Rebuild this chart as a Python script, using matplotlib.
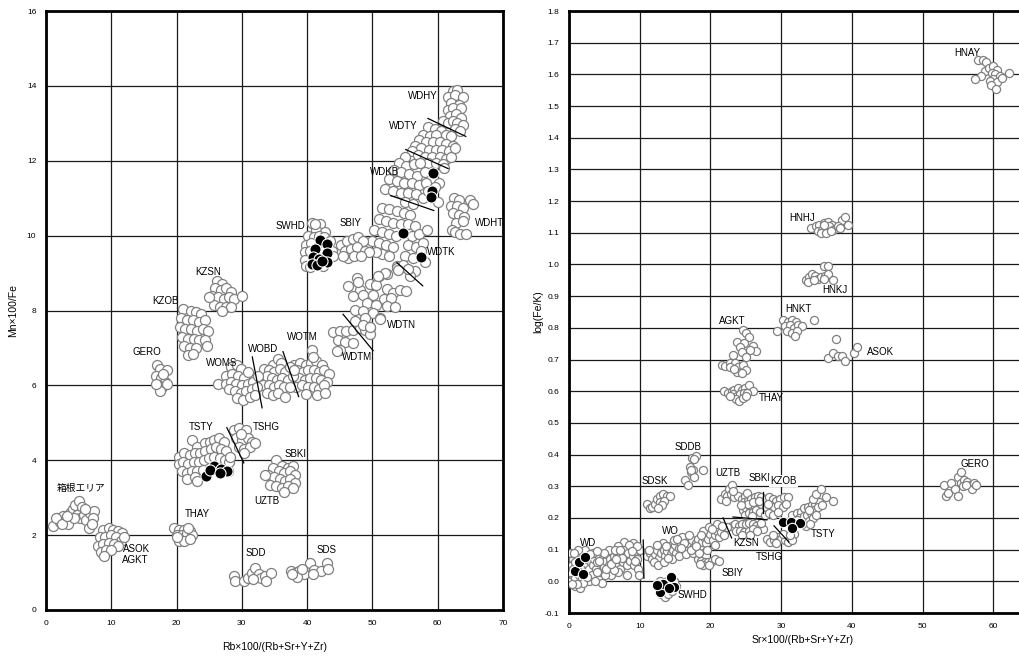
import numpy as np
from matplotlib import pyplot as plt

plt.rcParams['font.family'] = ['Liberation Sans', 'Noto Sans CJK JP', 'DejaVu Sans']

# ---- left diagram: Rb index vs Mn/Fe (open = reference groups, filled = samples)
l_wdhy = [(62.3, 13.85), (63.0, 13.9), (61.6, 13.7), (62.6, 13.75), (63.8, 13.7), (62.0, 13.55),
          (63.2, 13.5), (61.5, 13.35), (62.4, 13.4), (63.6, 13.4), (61.9, 13.2), (62.8, 13.25),
          (63.5, 13.15), (60.8, 13.05), (61.5, 13.0), (62.3, 13.05), (63.0, 13.0), (63.8, 12.95),
          (62.6, 12.85), (63.4, 12.8)]
l_wdty = [(58.5, 12.9), (59.6, 12.85), (60.5, 12.8), (57.8, 12.7), (58.8, 12.65), (59.8, 12.7),
          (61.2, 12.7), (62.0, 12.65), (57.2, 12.55), (58.2, 12.5), (59.3, 12.5), (60.3, 12.5),
          (61.3, 12.45), (62.3, 12.4), (56.5, 12.4), (57.5, 12.35), (58.6, 12.3), (59.7, 12.3),
          (60.7, 12.3), (61.8, 12.25), (56.0, 12.25), (57.0, 12.15), (58.0, 12.1), (59.2, 12.1),
          (60.3, 12.1), (61.3, 12.05), (62.0, 12.1), (58.5, 11.95), (59.7, 11.95), (60.8, 11.9),
          (61.0, 11.8), (62.7, 12.35)]
l_wdkb = [(55.0, 12.1), (54.0, 11.95), (55.2, 11.85), (56.3, 11.9), (57.3, 11.95), (53.3, 11.75),
          (54.4, 11.7), (55.6, 11.65), (56.8, 11.6), (58.0, 11.7), (52.5, 11.5), (53.7, 11.45),
          (54.9, 11.4), (56.1, 11.4), (57.2, 11.35), (58.2, 11.4), (60.2, 11.4), (52.0, 11.25),
          (53.1, 11.2), (54.3, 11.15), (55.5, 11.15), (56.6, 11.1), (57.8, 11.0), (60.0, 10.9),
          (55.0, 10.9), (56.2, 10.85), (58.5, 11.2), (59.6, 11.3)]
l_wdtk = [(51.5, 10.75), (52.6, 10.7), (53.7, 10.65), (54.8, 10.6), (55.8, 10.55), (51.0, 10.45),
          (52.1, 10.4), (53.2, 10.35), (54.3, 10.3), (55.4, 10.3), (56.5, 10.25), (50.3, 10.15),
          (51.4, 10.1), (52.5, 10.05), (53.6, 10.0), (56.0, 10.0), (57.2, 10.05), (58.4, 10.15),
          (50.0, 9.85), (51.0, 9.8), (52.1, 9.75), (53.2, 9.7), (55.5, 9.75), (56.6, 9.7),
          (57.8, 9.8), (51.5, 9.5), (52.6, 9.45), (55.0, 9.45), (56.2, 9.4), (58.0, 9.3),
          (53.7, 9.2), (54.8, 9.15), (56.5, 9.05), (57.5, 9.6), (50.6, 9.55)]
l_wdht = [(62.5, 11.0), (63.3, 10.95), (65.0, 10.95), (62.0, 10.8), (63.0, 10.8), (63.8, 10.75),
          (65.4, 10.85), (62.3, 10.6), (63.3, 10.55), (64.1, 10.5), (62.8, 10.35), (63.9, 10.4),
          (62.2, 10.15), (62.6, 10.1), (63.4, 10.05), (64.3, 10.05)]
l_wdtn = [(47.7, 8.87), (51.0, 8.93), (52.2, 8.98), (53.8, 9.14), (54.7, 9.22), (46.3, 8.65),
          (48.1, 8.56), (49.6, 8.72), (50.6, 8.69), (52.2, 8.57), (53.2, 8.47), (54.2, 8.56),
          (55.1, 8.51), (47.1, 8.38), (48.6, 8.42), (50.1, 8.42), (51.7, 8.31), (52.9, 8.33),
          (47.3, 8.02), (49.1, 8.20), (50.6, 8.16), (52.2, 8.11), (53.4, 8.09), (48.6, 7.98),
          (50.1, 7.93), (51.1, 7.80), (55.7, 8.91), (55.5, 9.11), (48.9, 7.80), (48.1, 7.62),
          (49.6, 7.54), (51.1, 7.77), (47.8, 8.75), (51.9, 9.0), (53.9, 9.09), (50.9, 8.91)]
l_wdtm = [(44.0, 7.42), (45.0, 7.44), (46.0, 7.44), (47.1, 7.49), (44.8, 7.22), (45.8, 7.17),
          (47.1, 7.13), (45.0, 6.95), (44.5, 6.91), (48.1, 7.53), (48.9, 7.49), (49.6, 7.38),
          (47.3, 7.71), (48.6, 7.62), (49.6, 7.57)]
l_wotm = [(40.8, 6.95), (38.0, 6.55), (38.9, 6.6), (39.8, 6.55), (40.6, 6.6), (41.4, 6.65),
          (42.2, 6.55), (37.6, 6.35), (38.5, 6.4), (39.3, 6.35), (40.2, 6.4), (41.0, 6.4),
          (41.8, 6.35), (42.6, 6.4), (43.3, 6.3), (37.9, 6.15), (38.8, 6.2), (39.7, 6.15),
          (40.5, 6.2), (41.3, 6.2), (42.1, 6.15), (43.0, 6.1), (38.3, 5.95), (39.2, 6.0),
          (40.1, 5.95), (41.0, 5.95), (41.8, 5.9), (42.6, 6.0), (39.8, 5.78), (41.5, 5.75),
          (42.8, 5.8), (37.2, 6.25), (40.9, 6.75)]
l_wobd = [(34.8, 6.55), (35.5, 6.7), (36.0, 6.6), (33.4, 6.45), (34.2, 6.4), (35.0, 6.35),
          (35.8, 6.45), (36.6, 6.35), (37.3, 6.5), (33.0, 6.2), (33.8, 6.25), (34.6, 6.2),
          (35.4, 6.15), (36.2, 6.2), (37.0, 6.15), (37.8, 6.25), (33.3, 6.0), (34.1, 6.0),
          (34.9, 5.95), (35.7, 6.0), (36.5, 5.95), (37.3, 5.95), (33.8, 5.8), (34.7, 5.75),
          (35.6, 5.8), (36.6, 5.7), (38.0, 6.4)]
l_woms = [(26.4, 6.05), (27.6, 6.25), (28.3, 6.5), (29.3, 6.55), (29.9, 6.45), (28.5, 6.3),
          (29.4, 6.25), (30.3, 6.2), (31.0, 6.35), (27.5, 6.05), (28.3, 6.1), (29.1, 6.05),
          (30.0, 6.0), (30.9, 6.05), (31.7, 6.1), (28.1, 5.9), (28.9, 5.85), (29.8, 5.8),
          (30.7, 5.85), (31.5, 5.9), (32.3, 5.95), (29.3, 5.65), (30.2, 5.6), (31.2, 5.7),
          (32.0, 5.75), (32.5, 6.25)]
l_swhd = [(40.7, 10.35), (42.0, 10.3), (41.3, 10.15), (42.7, 10.1), (40.2, 10.0), (41.0, 9.95),
          (41.8, 10.0), (42.6, 9.95), (43.5, 9.85), (39.8, 9.75), (40.6, 9.8), (43.8, 9.6),
          (39.7, 9.55), (40.4, 9.6), (43.2, 9.5), (39.6, 9.35), (44.0, 9.45), (39.9, 9.2),
          (40.5, 9.15), (42.5, 9.2), (41.6, 9.7), (42.4, 9.6), (41.2, 10.3)]
l_sbiy = [(45.2, 9.75), (46.1, 9.85), (47.0, 9.9), (47.8, 9.95), (48.5, 9.85), (45.8, 9.6),
          (46.7, 9.65), (47.6, 9.7), (48.8, 9.6), (49.4, 9.55), (46.2, 9.4), (47.2, 9.45),
          (48.3, 9.45), (45.5, 9.45)]
l_kzsn = [(26.2, 8.8), (27.0, 8.7), (25.9, 8.6), (26.8, 8.55), (27.6, 8.6), (28.4, 8.5),
          (25.4, 8.4), (26.3, 8.35), (27.2, 8.3), (28.0, 8.35), (28.8, 8.3), (30.0, 8.4),
          (25.7, 8.15), (26.6, 8.1), (27.5, 8.1), (28.4, 8.1), (26.9, 8.0), (24.9, 8.35)]
l_kzob = [(21.0, 8.05), (22.2, 8.0), (23.0, 7.95), (23.8, 7.9), (20.7, 7.8), (21.6, 7.75),
          (22.5, 7.75), (23.4, 7.7), (24.3, 7.75), (20.5, 7.55), (21.3, 7.5), (22.2, 7.5),
          (23.1, 7.45), (24.0, 7.5), (24.8, 7.45), (20.8, 7.3), (21.7, 7.25), (22.6, 7.25),
          (23.5, 7.2), (24.4, 7.2), (21.2, 7.05), (22.1, 7.0), (23.0, 7.0), (24.6, 7.05),
          (21.8, 6.8), (22.5, 6.85)]
l_gero = [(17.0, 6.55), (17.5, 6.45), (18.5, 6.4), (16.8, 6.25), (17.6, 6.2), (18.3, 6.1),
          (17.1, 6.0), (17.8, 5.95), (18.6, 6.05), (17.5, 5.85), (17.9, 6.3), (16.9, 6.05)]
l_tsty = [(22.4, 4.55), (23.2, 4.35), (24.4, 4.45), (25.1, 4.5), (25.8, 4.55), (26.5, 4.6),
          (27.2, 4.5), (20.4, 4.1), (21.2, 4.2), (22.0, 4.15), (22.8, 4.2), (23.6, 4.2),
          (24.4, 4.25), (25.2, 4.3), (26.0, 4.35), (26.8, 4.3), (27.6, 4.25), (20.3, 3.9),
          (21.0, 3.95), (21.8, 3.9), (22.6, 3.95), (23.4, 3.95), (24.2, 4.0), (25.0, 4.05),
          (25.8, 4.1), (26.6, 4.05), (27.4, 4.0), (28.1, 3.95), (20.8, 3.7), (21.6, 3.65),
          (22.4, 3.7), (23.2, 3.7), (24.0, 3.75), (27.9, 3.7), (21.6, 3.5), (22.8, 3.55),
          (23.2, 3.45), (28.2, 4.1)]
l_tshg = [(28.8, 4.8), (29.6, 4.85), (30.6, 4.8), (29.1, 4.6), (30.0, 4.55), (30.9, 4.6),
          (31.6, 4.5), (29.5, 4.35), (30.4, 4.3), (31.2, 4.35), (30.3, 4.2), (32.0, 4.45),
          (29.8, 4.7)]
l_sbki = [(35.3, 4.0), (36.2, 3.85), (37.0, 3.8), (37.8, 3.85), (34.8, 3.8), (35.7, 3.7),
          (36.5, 3.65), (37.3, 3.7), (38.1, 3.6), (34.0, 3.6), (34.9, 3.55), (35.8, 3.5),
          (36.6, 3.45), (37.4, 3.5), (38.2, 3.4), (34.3, 3.35), (35.2, 3.3), (36.1, 3.25),
          (37.0, 3.3), (37.8, 3.25), (36.4, 3.15), (33.6, 3.6)]
l_hakone = [(1.1, 2.25), (1.7, 2.45), (2.2, 2.35), (2.6, 2.5), (3.0, 2.4), (3.4, 2.3),
            (3.6, 2.6), (4.1, 2.7), (4.5, 2.8), (5.0, 2.9), (5.5, 2.75), (4.7, 2.55),
            (5.2, 2.45), (5.8, 2.55), (6.2, 2.4), (6.8, 2.6), (7.4, 2.65), (7.2, 2.45),
            (6.6, 2.2), (1.5, 2.45), (2.5, 2.3), (4.3, 2.45), (5.9, 2.7), (3.2, 2.5), (7.0, 2.3)]
l_asok = [(8.8, 2.15), (9.6, 2.2), (10.3, 2.15), (11.0, 2.1), (11.6, 2.05), (8.3, 1.95),
          (9.1, 1.95), (9.9, 2.0), (10.7, 1.95), (11.5, 1.85), (12.0, 1.95), (8.0, 1.7),
          (8.8, 1.75), (9.6, 1.8), (10.4, 1.75), (11.1, 1.7), (8.4, 1.55), (9.2, 1.6),
          (10.0, 1.6), (8.9, 1.45)]
l_thay = [(19.6, 2.2), (20.4, 2.15), (21.2, 2.15), (22.0, 2.1), (20.0, 2.0), (20.8, 2.0),
          (21.6, 2.05), (22.4, 2.0), (20.4, 1.85), (21.2, 1.85), (22.0, 1.9), (21.8, 2.2),
          (20.1, 1.95)]
l_sdd = [(28.8, 0.9), (29.0, 0.78), (30.3, 0.78), (31.0, 0.85), (31.6, 1.0), (32.0, 1.12),
         (32.6, 0.95), (33.0, 0.85), (33.6, 0.9), (34.4, 1.0), (33.7, 0.78), (31.7, 0.82)]
l_sds = [(37.5, 1.05), (38.2, 1.0), (38.7, 1.05), (39.5, 0.95), (38.5, 0.88), (40.5, 1.25),
         (41.1, 1.08), (42.1, 1.05), (43.0, 1.25), (43.2, 1.1), (40.9, 0.95), (39.2, 1.1),
         (37.7, 0.95)]

l_samples = [(59.3, 11.68), (59.1, 11.2), (59.0, 11.04), (54.7, 10.08), (57.4, 9.44),
             (42.0, 9.87), (43.0, 9.78), (41.2, 9.63), (43.0, 9.54), (40.9, 9.42), (41.8, 9.38),
             (43.0, 9.29), (40.7, 9.25), (41.5, 9.22), (42.2, 9.33),
             (24.5, 3.58), (25.8, 3.85), (25.1, 3.74), (26.8, 3.77), (27.7, 3.72), (26.6, 3.66)]

l_labels = [('WDHY', 57.7, 13.74), ('WDTY', 54.7, 12.94), ('WDKB', 51.9, 11.69),
            ('SWHD', 37.5, 10.27), ('SBIY', 46.7, 10.34), ('WDHT', 67.9, 10.35),
            ('WDTK', 60.5, 9.57), ('KZSN', 24.8, 9.03), ('KZOB', 18.3, 8.26),
            ('WDTN', 54.5, 7.62), ('WDTM', 47.7, 6.76), ('WOTM', 39.3, 7.30),
            ('WOBD', 33.3, 6.98), ('GERO', 15.4, 6.90), ('WOMS', 26.9, 6.60),
            ('TSTY', 23.7, 4.89), ('TSHG', 33.7, 4.89), ('SBKI', 38.3, 4.17),
            ('UZTB', 33.8, 2.91), ('箱根エリア', 5.4, 3.26), ('THAY', 23.2, 2.57),
            ('ASOK', 13.9, 1.63), ('AGKT', 13.6, 1.34), ('SDD', 32.1, 1.52), ('SDS', 43.0, 1.60)]

l_dividers = [((58.5, 13.13), (64.3, 12.65)), ((55.1, 12.3), (61.6, 11.79)),
              ((52.8, 11.07), (59.4, 10.67)), ((53.75, 9.28), (57.7, 8.66)),
              ((45.5, 7.9), (50.1, 6.93)), ((27.7, 4.87), (30.3, 3.93)),
              ((31.6, 6.76), (33.1, 5.40)), ((36.3, 6.90), (38.7, 5.70))]

# ---- right diagram: Sr index vs log(Fe/K)
r_hnay = [(57.9, 1.645), (58.5, 1.645), (59.0, 1.64), (58.9, 1.61), (58.3, 1.595), (57.4, 1.585),
          (59.4, 1.62), (60.0, 1.625), (60.5, 1.615), (59.8, 1.605), (60.3, 1.6), (61.0, 1.595),
          (62.3, 1.605), (60.0, 1.585), (59.5, 1.58), (60.6, 1.575), (59.7, 1.565), (60.4, 1.555),
          (61.2, 1.59)]
r_hnhj = [(34.2, 1.115), (34.9, 1.12), (35.4, 1.125), (36.0, 1.13), (36.6, 1.135), (37.2, 1.125),
          (38.6, 1.14), (39.0, 1.15), (39.4, 1.125), (35.2, 1.105), (35.8, 1.11), (36.3, 1.115),
          (36.8, 1.12), (37.4, 1.11), (38.0, 1.12), (35.6, 1.1), (36.4, 1.1), (37.0, 1.105),
          (36.1, 1.125), (38.3, 1.115)]
r_hnkj = [(36.0, 0.995), (36.6, 0.995), (33.5, 0.95), (34.0, 0.96), (34.4, 0.97), (34.8, 0.965),
          (35.2, 0.955), (35.7, 0.96), (36.2, 0.965), (36.6, 0.97), (37.3, 0.95), (33.8, 0.945),
          (34.6, 0.95), (36.0, 0.955)]
r_hnkt = [(30.3, 0.825), (31.0, 0.82), (31.6, 0.825), (32.1, 0.82), (30.6, 0.805), (31.2, 0.81),
          (31.8, 0.8), (32.4, 0.81), (33.0, 0.805), (34.6, 0.825), (30.9, 0.79), (31.6, 0.785),
          (32.2, 0.79), (29.4, 0.79), (31.9, 0.775)]
r_agkt = [(24.6, 0.793), (25.1, 0.784), (25.5, 0.771), (23.8, 0.756), (24.7, 0.752), (26.0, 0.743),
          (26.4, 0.727), (24.2, 0.741), (25.6, 0.730), (24.5, 0.724), (23.2, 0.714), (25.0, 0.708),
          (21.6, 0.683), (22.1, 0.680), (22.8, 0.689), (23.5, 0.689), (23.9, 0.677), (24.6, 0.683),
          (25.1, 0.667), (23.8, 0.661), (22.8, 0.677), (24.5, 0.658), (23.3, 0.67)]
r_asok = [(37.8, 0.765), (36.7, 0.705), (37.4, 0.72), (38.0, 0.71), (38.6, 0.71), (39.1, 0.695),
          (40.3, 0.72), (40.8, 0.738)]
r_thay = [(21.9, 0.6), (22.5, 0.595), (23.0, 0.6), (23.4, 0.605), (23.9, 0.61), (24.4, 0.605),
          (24.9, 0.61), (25.5, 0.62), (26.0, 0.6), (23.2, 0.59), (23.7, 0.585), (24.2, 0.59),
          (24.7, 0.595), (25.2, 0.595), (23.6, 0.575), (24.1, 0.57), (24.6, 0.58), (22.8, 0.585),
          (25.0, 0.585)]
r_sddb = [(17.4, 0.39), (17.9, 0.395), (17.7, 0.385), (17.1, 0.36), (17.6, 0.35), (17.3, 0.345),
          (17.7, 0.33), (19.0, 0.35), (16.4, 0.32), (16.9, 0.305), (17.2, 0.35)]
r_sdsk = [(11.0, 0.245), (11.4, 0.232), (11.8, 0.235), (12.2, 0.245), (12.5, 0.26), (12.9, 0.27),
          (13.3, 0.275), (13.8, 0.27), (14.3, 0.27), (12.9, 0.25), (13.4, 0.255), (13.1, 0.24),
          (12.6, 0.232)]
r_gero = [(53.0, 0.305), (53.3, 0.27), (53.6, 0.28), (54.1, 0.31), (54.6, 0.29), (55.0, 0.27),
          (55.0, 0.33), (55.5, 0.345), (55.4, 0.31), (55.9, 0.32), (56.3, 0.315), (56.7, 0.305),
          (57.0, 0.29), (57.3, 0.31), (55.7, 0.3), (56.2, 0.305), (57.6, 0.305)]
r_uztb = [(21.5, 0.26), (22.1, 0.275), (22.6, 0.29), (23.0, 0.305), (22.4, 0.27), (22.9, 0.275),
          (23.4, 0.265), (23.9, 0.27), (24.4, 0.26), (24.9, 0.27), (25.2, 0.28), (23.2, 0.285),
          (22.2, 0.255)]
r_sbki = [(24.8, 0.25), (25.3, 0.255), (25.8, 0.26), (26.3, 0.265), (26.8, 0.27), (27.2, 0.265),
          (24.6, 0.225), (25.1, 0.23), (25.6, 0.235), (26.1, 0.24), (26.6, 0.245), (27.1, 0.245),
          (24.9, 0.21), (25.5, 0.215), (26.0, 0.22), (26.5, 0.225), (27.0, 0.22), (25.3, 0.245),
          (26.0, 0.25), (24.3, 0.24), (25.9, 0.205), (26.9, 0.255)]
r_kzob = [(27.8, 0.26), (28.3, 0.265), (28.8, 0.26), (29.3, 0.255), (29.8, 0.26), (30.4, 0.265),
          (31.0, 0.265), (27.9, 0.235), (28.5, 0.24), (29.0, 0.235), (29.6, 0.24), (30.2, 0.235),
          (27.7, 0.21), (28.3, 0.215), (28.9, 0.21), (29.5, 0.22), (28.1, 0.245), (30.7, 0.245)]
r_tsty = [(31.6, 0.21), (32.2, 0.215), (32.8, 0.22), (33.3, 0.23), (33.8, 0.235), (34.3, 0.24),
          (34.8, 0.245), (35.3, 0.25), (34.5, 0.26), (35.0, 0.275), (35.6, 0.29), (36.3, 0.265),
          (37.4, 0.255), (32.6, 0.2), (33.2, 0.205), (33.7, 0.21), (34.2, 0.215), (34.7, 0.225),
          (35.2, 0.235), (33.9, 0.19), (34.5, 0.2), (35.0, 0.21), (33.5, 0.175), (34.1, 0.18),
          (31.8, 0.15), (33.0, 0.18), (34.0, 0.225), (32.2, 0.195), (35.8, 0.24)]
r_tshg = [(28.0, 0.135), (28.5, 0.125), (29.0, 0.13), (29.5, 0.14), (30.0, 0.135), (30.5, 0.13),
          (31.0, 0.125), (31.5, 0.13), (29.3, 0.12), (30.2, 0.15), (31.2, 0.145), (28.8, 0.145)]
r_kzsn = [(23.0, 0.175), (23.5, 0.18), (24.0, 0.175), (24.5, 0.18), (25.0, 0.18), (25.5, 0.185),
          (26.0, 0.18), (26.5, 0.175), (27.0, 0.17), (27.5, 0.165), (23.6, 0.16), (24.2, 0.16),
          (24.8, 0.155), (25.4, 0.16), (26.0, 0.165), (26.6, 0.16), (24.4, 0.145), (25.6, 0.145),
          (27.2, 0.185)]
r_sbiy = [(18.2, 0.07), (18.7, 0.065), (19.2, 0.06), (19.7, 0.06), (20.2, 0.065), (20.7, 0.07),
          (21.2, 0.065), (19.0, 0.05), (19.8, 0.05), (18.5, 0.055)]
r_wo = [(11.0, 0.08), (11.5, 0.09), (11.8, 0.07), (12.2, 0.085), (12.5, 0.1), (12.8, 0.075),
        (13.0, 0.09), (13.4, 0.1), (13.6, 0.08), (13.9, 0.095), (14.2, 0.11), (14.4, 0.085),
        (14.7, 0.1), (15.0, 0.115), (15.2, 0.09), (15.5, 0.105), (15.8, 0.12), (16.0, 0.095),
        (16.3, 0.11), (16.6, 0.125), (16.8, 0.1), (17.1, 0.115), (17.4, 0.13), (17.6, 0.105),
        (17.9, 0.12), (18.2, 0.135), (18.5, 0.11), (18.8, 0.125), (19.1, 0.14), (19.4, 0.12),
        (19.7, 0.135), (20.0, 0.15), (20.3, 0.13), (20.6, 0.145), (20.9, 0.16), (21.2, 0.14),
        (21.5, 0.155), (21.9, 0.145), (19.0, 0.16), (19.8, 0.17), (16.0, 0.14), (14.8, 0.13),
        (13.3, 0.12), (12.0, 0.06), (12.6, 0.05), (13.5, 0.06), (14.6, 0.07), (15.6, 0.08),
        (16.6, 0.085), (17.6, 0.09), (18.4, 0.09), (20.6, 0.115), (11.3, 0.1), (22.3, 0.17),
        (21.0, 0.18), (17.0, 0.145), (12.4, 0.115), (15.3, 0.135), (16.2, 0.12), (17.3, 0.1),
        (18.6, 0.145), (19.5, 0.1), (20.2, 0.165), (21.6, 0.175), (14.0, 0.075), (15.9, 0.105),
        (18.0, 0.11), (13.7, 0.11)]
r_wd = [(0.3, 0.0), (0.5, 0.02), (0.4, 0.05), (0.6, 0.07), (0.3, 0.09), (0.8, 0.01), (1.0, 0.05),
        (1.2, 0.08), (0.9, -0.015), (1.4, 0.02), (1.6, 0.04), (1.8, 0.01), (2.0, 0.05), (2.4, 0.03),
        (2.6, 0.055), (2.8, 0.04), (3.0, 0.065), (3.2, 0.02), (3.4, 0.05), (3.6, 0.07), (3.8, 0.04),
        (4.0, 0.06), (4.2, 0.08), (4.4, 0.03), (4.6, 0.055), (4.8, 0.075), (5.0, 0.045),
        (5.2, 0.065), (5.4, 0.085), (5.6, 0.05), (5.8, 0.07), (6.0, 0.095), (6.2, 0.06),
        (6.4, 0.08), (6.6, 0.05), (6.8, 0.09), (7.0, 0.07), (7.2, 0.04), (7.4, 0.085), (7.6, 0.06),
        (7.8, 0.1), (8.0, 0.075), (8.2, 0.05), (8.4, 0.09), (8.6, 0.065), (8.8, 0.11), (9.0, 0.08),
        (9.2, 0.05), (9.4, 0.095), (9.6, 0.07), (9.8, 0.04), (10.0, 0.1), (7.8, 0.125), (9.0, 0.12),
        (9.9, 0.02), (6.0, 0.02), (4.6, -0.005), (2.2, 0.1), (1.5, -0.02), (3.4, 0.09), (2.8, 0.0),
        (5.7, 0.1), (7.0, 0.03), (8.2, 0.02), (1.3, 0.1), (0.2, 0.03), (2.0, -0.005), (3.7, 0.0),
        (6.9, 0.11), (8.5, 0.115), (5.1, 0.02), (0.7, 0.09), (1.1, -0.01), (2.3, 0.07), (4.0, 0.03),
        (4.9, 0.09), (6.5, 0.1), (7.2, 0.1), (9.6, 0.11), (0.5, 0.04), (0.8, 0.06), (1.7, 0.07),
        (2.9, 0.085), (3.9, 0.095), (5.3, 0.04), (6.3, 0.035), (7.5, 0.075), (8.9, 0.095),
        (9.3, 0.065), (0.4, -0.01), (2.5, 0.015), (4.3, 0.065), (5.9, 0.055), (6.7, 0.07)]
r_swhd = [(12.5, -0.01), (13.0, -0.04), (13.6, -0.05), (14.0, -0.04), (14.5, -0.03), (15.2, -0.015),
          (14.8, 0.0), (13.9, 0.0), (12.9, 0.0)]

r_samples = [(0.85, 0.033), (1.4, 0.061), (2.3, 0.077), (2.0, 0.023),
             (12.9, -0.034), (13.3, -0.008), (14.4, 0.013), (14.9, -0.018), (14.1, -0.021),
             (12.5, -0.012),
             (30.3, 0.187), (31.4, 0.187), (32.7, 0.184), (31.6, 0.168)]

r_labels = [('HNAY', 56.3, 1.668), ('HNHJ', 33.0, 1.147), ('HNKJ', 37.6, 0.92),
            ('HNKT', 32.4, 0.86), ('AGKT', 23.1, 0.822), ('ASOK', 44.0, 0.724),
            ('THAY', 28.6, 0.579), ('SDDB', 16.8, 0.424), ('SDSK', 12.2, 0.317),
            ('UZTB', 22.5, 0.342), ('SBKI', 26.9, 0.326), ('GERO', 57.4, 0.37),
            ('TSTY', 35.9, 0.149), ('WO', 14.4, 0.159), ('WD', 2.7, 0.121),
            ('KZSN', 25.0, 0.121), ('TSHG', 28.4, 0.077), ('SBIY', 23.1, 0.026),
            ('SWHD', 17.4, -0.043)]

r_dividers = [((10.5, 0.13), (10.6, 0.01)), ((21.8, 0.20), (23.0, 0.137)),
              ((23.2, 0.203), (28.0, 0.194)), ((27.4, 0.282), (27.4, 0.216)),
              ((29.0, 0.175), (31.1, 0.124))]

left_groups = [l_wdhy, l_wdty, l_wdkb, l_wdtk, l_wdht, l_wdtn, l_wdtm, l_wotm, l_wobd, l_woms,
               l_swhd, l_sbiy, l_kzsn, l_kzob, l_gero, l_tsty, l_tshg, l_sbki, l_hakone,
               l_asok, l_thay, l_sdd, l_sds]
right_groups = [r_hnay, r_hnhj, r_hnkj, r_hnkt, r_agkt, r_asok, r_thay, r_sddb, r_sdsk, r_gero,
                r_uztb, r_sbki, r_kzob, r_tsty, r_tshg, r_kzsn, r_sbiy, r_wo, r_wd, r_swhd]


def draw_panel(ax, groups, samples, labels, dividers, s_open, s_fill):
    for pts in groups:
        xy = np.array(pts)
        ax.scatter(xy[:, 0], xy[:, 1], s=s_open, facecolor='white', edgecolor='#808080',
                   linewidth=0.9, zorder=3)
    xy = np.array(samples)
    ax.scatter(xy[:, 0], xy[:, 1], s=s_fill, facecolor='black', edgecolor='white',
               linewidth=0.8, zorder=4)
    for (x0, y0), (x1, y1) in dividers:
        ax.plot([x0, x1], [y0, y1], color='black', lw=0.9, zorder=5)
    for txt, x, y in labels:
        ax.text(x, y, txt, fontsize=7, ha='center', va='center', zorder=6)
    ax.grid(True, color='#1a1a1a', lw=0.9, zorder=0)
    ax.set_axisbelow(True)
    ax.tick_params(length=0, labelsize=6, pad=7)
    for sp in ax.spines.values():
        sp.set_linewidth(2)


fig = plt.figure(figsize=(10.2, 6.57), dpi=100)

ax1 = fig.add_axes([46 / 1020, 47 / 657, 457 / 1020, 599 / 657])
draw_panel(ax1, left_groups, l_samples, l_labels, l_dividers, 52, 64)
ax1.set_xlim(0, 70)
ax1.set_ylim(0, 16)
ax1.set_xticks(range(0, 71, 10))
ax1.set_yticks(range(0, 17, 2))
ax1.set_xlabel('Rb×100/(Rb+Sr+Y+Zr)', fontsize=7.5, labelpad=11)
ax1.set_ylabel('Mn×100/Fe', fontsize=7.5, labelpad=6)

ax2 = fig.add_axes([569 / 1020, 44 / 657, 66 * 7.07 / 1020, 602 / 657])
draw_panel(ax2, right_groups, r_samples, r_labels, r_dividers, 34, 56)
ax2.text(30.3, 0.317, 'KZOB', fontsize=7, ha='center', va='center', zorder=6,
         bbox=dict(facecolor='white', edgecolor='none', pad=1))
ax2.set_xlim(0, 66)
ax2.set_ylim(-0.1, 1.8)
ax2.set_xticks(range(0, 61, 10))
ax2.set_yticks(np.round(np.arange(-0.1, 1.81, 0.1), 1))
ax2.yaxis.set_major_formatter(plt.FormatStrFormatter('%.1f'))
ax2.set_xlabel('Sr×100/(Rb+Sr+Y+Zr)', fontsize=7.5, labelpad=4)
ax2.set_ylabel('log(Fe/K)', fontsize=7.5, labelpad=1)

fig.savefig('out.png', dpi=100)
